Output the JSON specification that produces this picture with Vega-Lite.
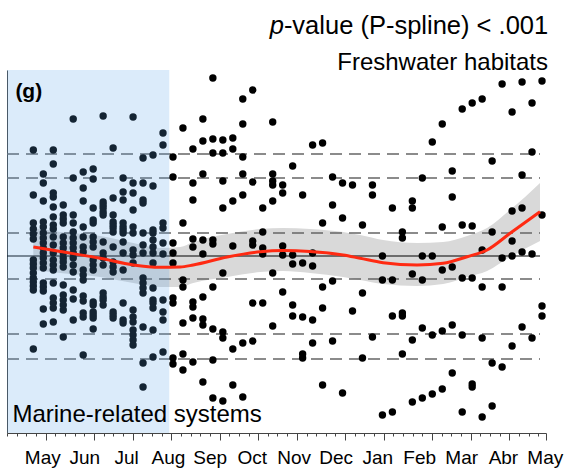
{
"$schema": "https://vega.github.io/schema/vega-lite/v6.json",
"width": 539, "height": 363,
"autosize": {"type": "none"},
"padding": {"left": 7, "top": 70, "right": 32, "bottom": 37},
"config": {"view": {"stroke": null}, "font": "Liberation Sans"},
"datasets": {
"fit": [
{"w":0,"v":9,"lo":-14,"hi":28},{"w":2.71,"v":4.5,"lo":-17,"hi":24},{"w":6.71,"v":-2.3,"lo":-21,"hi":20},{"w":10.02,"v":-9,"lo":-27,"hi":13},{"w":12.73,"v":-11.3,"lo":-31,"hi":8},{"w":14.73,"v":-11,"lo":-31,"hi":9},{"w":16.03,"v":-9,"lo":-27,"hi":14},{"w":19.44,"v":-1,"lo":-21,"hi":22},{"w":22.75,"v":4.3,"lo":-16,"hi":27},{"w":25.05,"v":5.5,"lo":-15,"hi":28},{"w":27.76,"v":4.5,"lo":-17,"hi":27},{"w":31.06,"v":1,"lo":-21,"hi":24},{"w":32.77,"v":-2.3,"lo":-24,"hi":21},{"w":35.07,"v":-6.7,"lo":-28,"hi":16},{"w":38.48,"v":-9,"lo":-30,"hi":13},{"w":41.08,"v":-7.3,"lo":-28,"hi":14},{"w":43.49,"v":-0.7,"lo":-21,"hi":20},{"w":45.49,"v":6,"lo":-15,"hi":28},{"w":47.8,"v":22.7,"lo":-1,"hi":46},{"w":50.8,"v":44.3,"lo":15,"hi":73}
],
"refs": [
{"v":102,"kind":"dashed"},{"v":78,"kind":"dashed"},{"v":23,"kind":"dashed"},{"v":0,"kind":"solid"},{"v":-23,"kind":"dashed"},{"v":-78,"kind":"dashed"},{"v":-103,"kind":"dashed"}
],
"pts": [
{"w":0,"v":106},{"w":0,"v":61},{"w":0,"v":33},{"w":0,"v":27},{"w":0,"v":22},{"w":0,"v":17},{"w":0,"v":-4},{"w":0,"v":-8},{"w":0,"v":-12},{"w":0,"v":-17},{"w":0,"v":-22},{"w":0,"v":-26},{"w":0,"v":-30},{"w":0,"v":-34},{"w":0,"v":-93},
{"w":1,"v":82},{"w":1,"v":73},{"w":1,"v":55},{"w":1,"v":34},{"w":1,"v":29},{"w":1,"v":23},{"w":1,"v":18},{"w":1,"v":13},{"w":1,"v":8},{"w":1,"v":3},{"w":1,"v":-2},{"w":1,"v":-7},{"w":1,"v":-12},{"w":1,"v":-27},{"w":1,"v":-31},{"w":1,"v":-35},{"w":1,"v":-53},{"w":1,"v":-68},
{"w":2,"v":106},{"w":2,"v":92},{"w":2,"v":63},{"w":2,"v":59},{"w":2,"v":49},{"w":2,"v":39},{"w":2,"v":31},{"w":2,"v":27},{"w":2,"v":19},{"w":2,"v":11},{"w":2,"v":3},{"w":2,"v":-4},{"w":2,"v":-9},{"w":2,"v":-14},{"w":2,"v":-27},{"w":2,"v":-42},{"w":2,"v":-47},{"w":2,"v":-52},{"w":2,"v":-66},
{"w":3,"v":51},{"w":3,"v":41},{"w":3,"v":37},{"w":3,"v":33},{"w":3,"v":19},{"w":3,"v":13},{"w":3,"v":8},{"w":3,"v":3},{"w":3,"v":-2},{"w":3,"v":-6},{"w":3,"v":-11},{"w":3,"v":-29},{"w":3,"v":-39},{"w":3,"v":-44},{"w":3,"v":-49},{"w":3,"v":-54},{"w":3,"v":-81},
{"w":4,"v":137},{"w":4,"v":78},{"w":4,"v":41},{"w":4,"v":33},{"w":4,"v":24},{"w":4,"v":18},{"w":4,"v":13},{"w":4,"v":8},{"w":4,"v":3},{"w":4,"v":-2},{"w":4,"v":-9},{"w":4,"v":-16},{"w":4,"v":-34},{"w":4,"v":-43},{"w":4,"v":-64},
{"w":5,"v":84},{"w":5,"v":68},{"w":5,"v":55},{"w":5,"v":29},{"w":5,"v":19},{"w":5,"v":9},{"w":5,"v":4},{"w":5,"v":-14},{"w":5,"v":-19},{"w":5,"v":-24},{"w":5,"v":-40},{"w":5,"v":-45},{"w":5,"v":-57},{"w":5,"v":-61},{"w":5,"v":-99},
{"w":6,"v":87},{"w":6,"v":77},{"w":6,"v":48},{"w":6,"v":36},{"w":6,"v":33},{"w":6,"v":19},{"w":6,"v":14},{"w":6,"v":9},{"w":6,"v":-4},{"w":6,"v":-9},{"w":6,"v":-14},{"w":6,"v":-46},{"w":6,"v":-49},{"w":6,"v":-56},{"w":6,"v":-59},{"w":6,"v":-62},{"w":6,"v":-73},
{"w":7,"v":140},{"w":7,"v":54},{"w":7,"v":51},{"w":7,"v":48},{"w":7,"v":44},{"w":7,"v":41},{"w":7,"v":14},{"w":7,"v":3},{"w":7,"v":-2},{"w":7,"v":-9},{"w":7,"v":-37},{"w":7,"v":-41},{"w":7,"v":-44},{"w":7,"v":-49},
{"w":8,"v":108},{"w":8,"v":58},{"w":8,"v":41},{"w":8,"v":34},{"w":8,"v":31},{"w":8,"v":28},{"w":8,"v":24},{"w":8,"v":9},{"w":8,"v":-6},{"w":8,"v":-11},{"w":8,"v":-16},{"w":8,"v":-56},{"w":8,"v":-59},{"w":8,"v":-62},
{"w":9,"v":78},{"w":9,"v":64},{"w":9,"v":56},{"w":9,"v":33},{"w":9,"v":29},{"w":9,"v":26},{"w":9,"v":23},{"w":9,"v":14},{"w":9,"v":3},{"w":9,"v":-14},{"w":9,"v":-47},{"w":9,"v":-64},{"w":9,"v":-67},
{"w":10,"v":139},{"w":10,"v":73},{"w":10,"v":63},{"w":10,"v":46},{"w":10,"v":29},{"w":10,"v":23},{"w":10,"v":6},{"w":10,"v":1},{"w":10,"v":-7},{"w":10,"v":-54},{"w":10,"v":-61},{"w":10,"v":-66},{"w":10,"v":-74},{"w":10,"v":-79},{"w":10,"v":-84},{"w":10,"v":-89},
{"w":11,"v":98},{"w":11,"v":73},{"w":11,"v":56},{"w":11,"v":53},{"w":11,"v":23},{"w":11,"v":11},{"w":11,"v":3},{"w":11,"v":-22},{"w":11,"v":-27},{"w":11,"v":-32},{"w":11,"v":-37},{"w":11,"v":-71},{"w":11,"v":-107},{"w":11,"v":-131},
{"w":12,"v":101},{"w":12,"v":70},{"w":12,"v":26},{"w":12,"v":23},{"w":12,"v":16},{"w":12,"v":9},{"w":12,"v":3},{"w":12,"v":-7},{"w":12,"v":-32},{"w":12,"v":-44},{"w":12,"v":-47},{"w":12,"v":-52},{"w":12,"v":-74},{"w":12,"v":-101},
{"w":13,"v":123},{"w":13,"v":111},{"w":13,"v":33},{"w":13,"v":28},{"w":13,"v":13},{"w":13,"v":2},{"w":13,"v":-44},{"w":13,"v":-56},{"w":13,"v":-64},{"w":13,"v":-96},
{"w":14,"v":99},{"w":14,"v":79},{"w":14,"v":13},{"w":14,"v":3},{"w":14,"v":-7},{"w":14,"v":-42},{"w":14,"v":-47},{"w":14,"v":-102},{"w":14,"v":-108},
{"w":15,"v":128},{"w":15,"v":33},{"w":15,"v":-24},{"w":15,"v":-31},{"w":15,"v":-67},{"w":15,"v":-98},{"w":15,"v":-114},
{"w":16,"v":107},{"w":16,"v":73},{"w":16,"v":56},{"w":16,"v":17},{"w":16,"v":9},{"w":16,"v":-46},{"w":16,"v":-51},{"w":16,"v":-62},{"w":16,"v":-106},
{"w":17,"v":137},{"w":17,"v":115},{"w":17,"v":82},{"w":17,"v":16},{"w":17,"v":2},{"w":17,"v":-41},{"w":17,"v":-63},{"w":17,"v":-69},{"w":17,"v":-126},
{"w":18,"v":178},{"w":18,"v":117},{"w":18,"v":103},{"w":18,"v":16},{"w":18,"v":12},{"w":18,"v":-31},{"w":18,"v":-73},{"w":18,"v":-104},{"w":18,"v":-142},
{"w":19,"v":116},{"w":19,"v":103},{"w":19,"v":75},{"w":19,"v":48},{"w":19,"v":-17},{"w":19,"v":-76},{"w":19,"v":-82},{"w":19,"v":-145},
{"w":20,"v":118},{"w":20,"v":107},{"w":20,"v":55},{"w":20,"v":10},{"w":20,"v":-93},{"w":20,"v":-129},
{"w":21,"v":157},{"w":21,"v":132},{"w":21,"v":99},{"w":21,"v":82},{"w":21,"v":61},{"w":21,"v":-87},{"w":21,"v":-141},
{"w":22,"v":166},{"w":22,"v":74},{"w":22,"v":15},{"w":22,"v":11},{"w":22,"v":-47},{"w":22,"v":-85},
{"w":23,"v":48},{"w":23,"v":24},{"w":23,"v":8},{"w":23,"v":2},{"w":23,"v":-47},
{"w":24,"v":134},{"w":24,"v":82},{"w":24,"v":75},{"w":24,"v":71},{"w":24,"v":55},{"w":24,"v":-17},{"w":24,"v":-70},
{"w":25,"v":71},{"w":25,"v":63},{"w":25,"v":10},{"w":25,"v":1},{"w":25,"v":-36},
{"w":26,"v":90},{"w":26,"v":1},{"w":26,"v":-8},{"w":26,"v":-49},{"w":26,"v":-60},
{"w":27,"v":61},{"w":27,"v":-7},{"w":27,"v":-61},{"w":27,"v":-98},{"w":27,"v":-102},
{"w":28,"v":111},{"w":28,"v":3},{"w":28,"v":-10},{"w":28,"v":-64},{"w":28,"v":-87},
{"w":29,"v":113},{"w":29,"v":33},{"w":29,"v":-31},{"w":29,"v":-52},{"w":29,"v":-129},
{"w":30,"v":79},{"w":30,"v":51},{"w":30,"v":-25},{"w":30,"v":-85},
{"w":31,"v":73},{"w":31,"v":38},{"w":31,"v":-137},
{"w":32,"v":71},{"w":32,"v":-55},
{"w":33,"v":31},{"w":33,"v":-37},{"w":33,"v":-102},
{"w":34,"v":71},{"w":34,"v":61},{"w":34,"v":-81},
{"w":35,"v":0},{"w":35,"v":-24},{"w":35,"v":-159},
{"w":36,"v":48},{"w":36,"v":-24},{"w":36,"v":-60},{"w":36,"v":-156},
{"w":37,"v":24},{"w":37,"v":18},{"w":37,"v":-57},{"w":37,"v":-60},{"w":37,"v":-98},
{"w":38,"v":55},{"w":38,"v":48},{"w":38,"v":-18},{"w":38,"v":-84},{"w":38,"v":-146},
{"w":39,"v":78},{"w":39,"v":0},{"w":39,"v":-24},{"w":39,"v":-72},{"w":39,"v":-142},
{"w":40,"v":114},{"w":40,"v":0},{"w":40,"v":-79},{"w":40,"v":-138},
{"w":41,"v":132},{"w":41,"v":29},{"w":41,"v":-14},{"w":41,"v":-75},{"w":41,"v":-133},
{"w":42,"v":85},{"w":42,"v":59},{"w":42,"v":-11},{"w":42,"v":-69},{"w":42,"v":-117},
{"w":43,"v":147},{"w":43,"v":31},{"w":43,"v":-22},{"w":43,"v":-79},{"w":43,"v":-156},
{"w":44,"v":153},{"w":44,"v":30},{"w":44,"v":-22},{"w":44,"v":-128},{"w":44,"v":-131},
{"w":45,"v":157},{"w":45,"v":6},{"w":45,"v":-31},{"w":45,"v":-82},{"w":45,"v":-161},
{"w":46,"v":95},{"w":46,"v":24},{"w":46,"v":-107},{"w":46,"v":-150},
{"w":47,"v":172},{"w":47,"v":-2},{"w":47,"v":-31},{"w":47,"v":-111},
{"w":48,"v":144},{"w":48,"v":45},{"w":48,"v":15},{"w":48,"v":0},{"w":48,"v":-90},
{"w":49,"v":174},{"w":49,"v":81},{"w":49,"v":48},{"w":49,"v":4},{"w":49,"v":-71},
{"w":50,"v":153},{"w":50,"v":104},{"w":50,"v":2},{"w":50,"v":-82},
{"w":51,"v":175},{"w":51,"v":41},{"w":51,"v":-50},{"w":51,"v":-60}
]
},
"layer": [
{"data": {"name": "pts"}, "mark": {"type": "circle", "size": 0, "opacity": 0},
 "encoding": {
  "x": {"field": "w", "type": "quantitative",
   "scale": {"domain": [-2.64, 51.4], "nice": false, "zero": false},
   "axis": {"title": null, "grid": false, "tickCount": 500,
    "values": [-2.64,-1.67,-0.7,0.27,1.24,2.21,3.18,4.15,5.11,6.08,7.05,8.02,8.99,9.96,10.92,11.89,12.86,13.83,14.8,15.77,16.74,17.7,18.67,19.64,20.61,21.58,22.55,23.52,24.48,25.45,26.42,27.39,28.36,29.33,30.29,31.26,32.23,33.2,34.17,35.14,36.11,37.07,38.04,39.01,39.98,40.95,41.92,42.89,43.85,44.82,45.79,46.76,47.73,48.7,49.66,50.63,51.4,0.9,5.1,9.3,13.5,17.69,21.89,26.09,30.3,34.49,38.69,42.9,47.08,51.28],
    "domainColor": "#444444", "tickColor": "#444444",
    "tickSize": {"condition": {"test": "indexof([1.24,6.08,9.96,13.83,18.67,22.55,26.42,31.26,35.14,39.98,43.85,47.73,51.4], datum.value) >= 0", "value": 7}, "value": 3},
    "tickOpacity": {"condition": {"test": "indexof([0.9,5.1,9.3,13.5,17.69,21.89,26.09,30.3,34.49,38.69,42.9,47.08,51.28], datum.value) >= 0", "value": 0}, "value": 1},
    "labelExpr": "indexof([0.9,5.1,9.3,13.5,17.69,21.89,26.09,30.3,34.49,38.69,42.9,47.08,51.28], datum.value) >= 0 ? ['May','Jun','Jul','Aug','Sep','Oct','Nov','Dec','Jan','Feb','Mar','Abr','May'][indexof([0.9,5.1,9.3,13.5,17.69,21.89,26.09,30.3,34.49,38.69,42.9,47.08,51.28], datum.value)] : ''",
    "labelOverlap": false, "labelFlush": false, "labelBound": false,
    "labelFontSize": 19, "labelColor": "#000000", "labelFont": "Liberation Sans",
    "labelBaseline": "alphabetic", "labelPadding": 27}},
  "y": {"field": "v", "type": "quantitative",
   "scale": {"domain": [-177, 186], "nice": false, "zero": false},
   "axis": {"title": null, "grid": false, "ticks": false, "labels": false, "domainColor": "#444444"}}}},
{"data": {"name": "fit"}, "mark": {"type": "area", "color": "#d9d9d9", "interpolate": "monotone"},
 "encoding": {"x": {"field": "w", "type": "quantitative"}, "y": {"field": "lo", "type": "quantitative"}, "y2": {"field": "hi"}}},
{"data": {"name": "refs"}, "transform": [{"filter": "datum.kind == 'dashed'"}],
 "mark": {"type": "rule", "color": "#666666", "strokeWidth": 1.4, "strokeDash": [12, 7]},
 "encoding": {"x": {"datum": -2.64, "type": "quantitative"}, "x2": {"datum": 50.8}, "y": {"field": "v", "type": "quantitative"}}},
{"data": {"name": "refs"}, "transform": [{"filter": "datum.kind == 'solid'"}],
 "mark": {"type": "rule", "color": "#000000", "strokeWidth": 1.2},
 "encoding": {"x": {"datum": -2.64, "type": "quantitative"}, "x2": {"datum": 50.8}, "y": {"field": "v", "type": "quantitative"}}},
{"data": {"name": "pts"}, "mark": {"type": "circle", "size": 55, "color": "#000000", "opacity": 1},
 "encoding": {"x": {"field": "w", "type": "quantitative"}, "y": {"field": "v", "type": "quantitative"}}},
{"data": {"values": [{}]}, "mark": {"type": "rect", "color": "#5da2e7", "opacity": 0.22},
 "encoding": {"x": {"datum": -2.64, "type": "quantitative"}, "x2": {"datum": 13.63}, "y": {"datum": -177, "type": "quantitative"}, "y2": {"datum": 186}}},
{"data": {"name": "fit"}, "mark": {"type": "line", "color": "#ff2a12", "strokeWidth": 3, "interpolate": "monotone"},
 "encoding": {"x": {"field": "w", "type": "quantitative"}, "y": {"field": "v", "type": "quantitative"}}},
{"data": {"values": [{}]}, "mark": {"type": "text", "text": "(g)", "fontWeight": "bold", "fontSize": 21, "align": "left", "baseline": "alphabetic", "color": "#000000"},
 "encoding": {"x": {"datum": -1.8, "type": "quantitative"}, "y": {"datum": 158, "type": "quantitative"}}},
{"data": {"values": [{}]}, "mark": {"type": "text", "text": "Marine-related systems", "fontSize": 24, "align": "left", "baseline": "alphabetic", "color": "#000000"},
 "encoding": {"x": {"datum": -2.1, "type": "quantitative"}, "y": {"datum": -166, "type": "quantitative"}}},
{"data": {"values": [{}]}, "mark": {"type": "text", "text": "Freshwater habitats", "fontSize": 24, "align": "right", "baseline": "alphabetic", "color": "#000000"},
 "encoding": {"x": {"datum": 51.6, "type": "quantitative"}, "y": {"datum": 186, "type": "quantitative"}}},
{"data": {"values": [{}]}, "mark": {"type": "text", "text": "p", "fontSize": 25.5, "fontStyle": "italic", "align": "right", "baseline": "alphabetic", "color": "#000000"},
 "encoding": {"x": {"datum": 25.12, "type": "quantitative"}, "y": {"datum": 222, "type": "quantitative"}}},
{"data": {"values": [{}]}, "mark": {"type": "text", "text": "-value (P-spline) < .001", "fontSize": 25.5, "align": "left", "baseline": "alphabetic", "color": "#000000"},
 "encoding": {"x": {"datum": 25.12, "type": "quantitative"}, "y": {"datum": 222, "type": "quantitative"}}}
]
}
